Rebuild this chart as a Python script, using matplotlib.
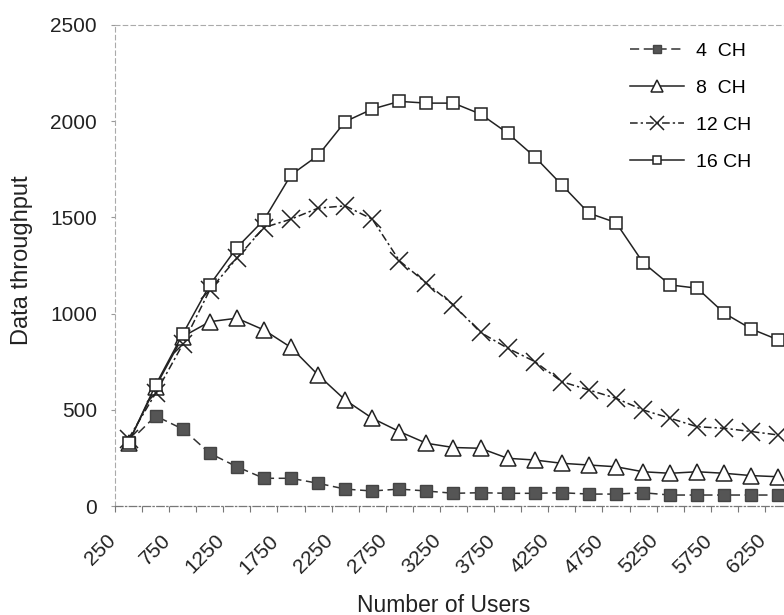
import numpy as np
import matplotlib
matplotlib.use("Agg")
import matplotlib.pyplot as plt
import matplotlib.transforms as mtransforms

plt.rcParams['font.family'] = ['Liberation Sans', 'DejaVu Sans']

# number of users per run (category axis)
users = list(range(250, 6500, 250))
tick_labels = [str(u) for u in users[::2]]

ch4 = [330, 468, 400, 274, 204, 144, 144, 118, 88, 78, 88, 78, 66,
       69, 66, 66, 69, 62, 62, 69, 57, 57, 57, 57, 57]
ch8 = [330, 620, 880, 958, 976, 915, 824, 681, 551, 456, 387, 326, 304,
       300, 248, 239, 222, 213, 204, 178, 170, 178, 170, 158, 152]
ch12 = [350, 586, 840, 1123, 1288, 1447, 1491, 1548, 1560, 1491, 1275, 1158, 1045,
        902, 820, 751, 646, 603, 560, 499, 456, 412, 404, 387, 369]
ch16 = [329, 629, 893, 1149, 1343, 1487, 1721, 1822, 1998, 2063, 2103, 2094, 2094,
        2037, 1938, 1815, 1669, 1522, 1473, 1265, 1149, 1132, 1002, 920, 863]

W, H = 784, 615
fig = plt.figure(figsize=(W / 100, H / 100), dpi=100)
ax = fig.add_axes([115 / W, 1 - 506 / H, 677 / W, 481 / H])

x = np.arange(len(users))
ink = '#222222'

ax.plot(x, ch4, color='#333333', lw=1.1, ls=(0, (6, 3)), marker='s', ms=8,
        mfc='#555555', mec='#444444', label='4  CH')
ax.plot(x, ch8, color=ink, lw=1.1, ls='-', marker='^', ms=11,
        mfc='white', mec=ink, mew=1.1, label='8  CH')
ax.plot(x, ch12, color=ink, lw=1.1, ls=(0, (5, 2, 1.5, 2)), marker='x', ms=13,
        mec=ink, mew=1.1, label='12 CH')
ax.plot(x, ch16, color=ink, lw=1.1, ls='-', marker='s', ms=8,
        mfc='white', mec=ink, mew=1.1, label='16 CH')

ax.set_xlim(-0.5, len(users) - 0.5)
ax.set_ylim(0, 2500)
ax.set_yticks(range(0, 2501, 500))

# labels on every other category, tick marks between categories
ax.set_xticks(x[::2])
ax.set_xticklabels(tick_labels, rotation=45, ha='right', va='top',
                   rotation_mode='anchor', fontsize=15, color='#222222')
ax.set_xticks(np.arange(-0.5, len(users), 1), minor=True)
ax.tick_params(axis='x', which='major', length=0, pad=18)
ax.tick_params(axis='x', which='minor', length=4, color='#777777', width=0.8)
ax.tick_params(axis='y', length=3, color='#999999', width=0.8, labelsize=15,
               labelcolor='#222222', pad=10)
shift = mtransforms.ScaledTranslation(-0.22, 0, fig.dpi_scale_trans)
for lbl in ax.get_xticklabels():
    lbl.set_transform(lbl.get_transform() + shift)

for side in ['left', 'top']:
    ax.spines[side].set_color('#aaaaaa')
    ax.spines[side].set_linestyle((0, (4, 3)))
    ax.spines[side].set_linewidth(0.8)
ax.spines['bottom'].set_color('#777777')
ax.spines['bottom'].set_linestyle((0, (6, 2, 1, 2)))
ax.spines['bottom'].set_linewidth(0.9)
ax.spines['right'].set_visible(False)

fig.text(22 / W, 1 - 260 / H, 'Data throughput', rotation=90, ha='center',
         va='center', fontsize=17, color='#222222')
fig.text(444 / W, 1 - 605 / H, 'Number of Users', ha='center', va='center',
         fontsize=16.5, color='#222222')

fig.legend(loc='upper left', bbox_to_anchor=(630 / W, 1 - 42 / H), frameon=False,
           fontsize=14, handlelength=2.8, handletextpad=0.6, labelspacing=1.0,
           borderpad=0, borderaxespad=0, markerscale=0.75)

fig.savefig('out.png', dpi=100)
